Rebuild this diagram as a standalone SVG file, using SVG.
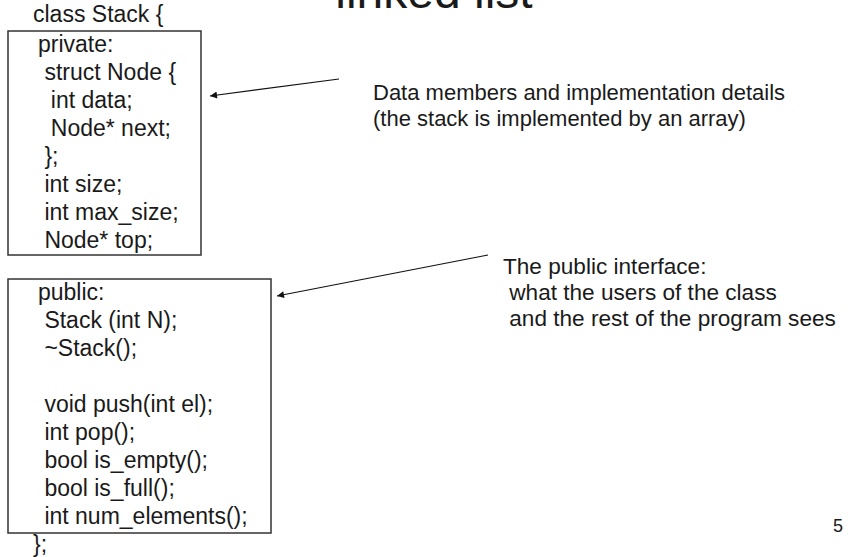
<svg xmlns="http://www.w3.org/2000/svg" width="848" height="557" viewBox="0 0 848 557">
<style>
text{font-family:"Liberation Sans",Arial,sans-serif;fill:#1a1a1a;white-space:pre}
.c{font-size:23px}
.a{font-size:22px}
.b{font-size:22.6px}
.box{fill:none;stroke:#333;stroke-width:1.5}
.conn{stroke:#111;stroke-width:1.2;fill:none;marker-end:url(#ah)}
</style>
<defs>
<marker id="ah" viewBox="0 0 10 10" refX="10" refY="5" markerWidth="10" markerHeight="7" markerUnits="userSpaceOnUse" orient="auto">
<path d="M0,0 L10,5 L0,10 z" fill="#111"/>
</marker>
</defs>
<rect width="848" height="557" fill="#fff"/>
<text x="434" y="8" font-size="48" text-anchor="middle">linked list</text>
<g id="class-header"><text class="c" x="33" y="22">class Stack {</text></g>
<g id="private-box">
<rect class="box" x="8" y="31" width="193" height="224"/>
<text class="c" x="38" y="52">private:</text>
<text class="c" x="38" y="80"> struct Node {</text>
<text class="c" x="38" y="108">  int data;</text>
<text class="c" x="38" y="136">  Node* next;</text>
<text class="c" x="38" y="164"> };</text>
<text class="c" x="38" y="192"> int size;</text>
<text class="c" x="38" y="220"> int max_size;</text>
<text class="c" x="38" y="248"> Node* top;</text>
</g>
<g id="public-box">
<rect class="box" x="8" y="279" width="263" height="254"/>
<text class="c" x="38" y="300">public:</text>
<text class="c" x="38" y="328"> Stack (int N);</text>
<text class="c" x="38" y="356"> ~Stack();</text>
<text class="c" x="38" y="412"> void push(int el);</text>
<text class="c" x="38" y="440"> int pop();</text>
<text class="c" x="38" y="468"> bool is_empty();</text>
<text class="c" x="38" y="496"> bool is_full();</text>
<text class="c" x="38" y="524"> int num_elements();</text>
</g>
<g id="class-footer"><text class="c" x="33" y="552">};</text></g>
<g id="note-private">
<text class="a" x="373" y="100">Data members and implementation details</text>
<text class="a" x="373" y="126">(the stack is implemented by an array)</text>
</g>
<g id="note-public">
<text class="b" x="503" y="274">The public interface:</text>
<text class="b" x="503" y="300"> what the users of the class</text>
<text class="b" x="503" y="326"> and the rest of the program sees</text>
</g>
<g id="page-number"><text x="838" y="532" font-size="18" text-anchor="middle">5</text></g>
<g id="connectors">
<line class="conn" x1="339" y1="79" x2="210" y2="96"/>
<line class="conn" x1="488" y1="255" x2="277" y2="296"/>
</g>
</svg>
